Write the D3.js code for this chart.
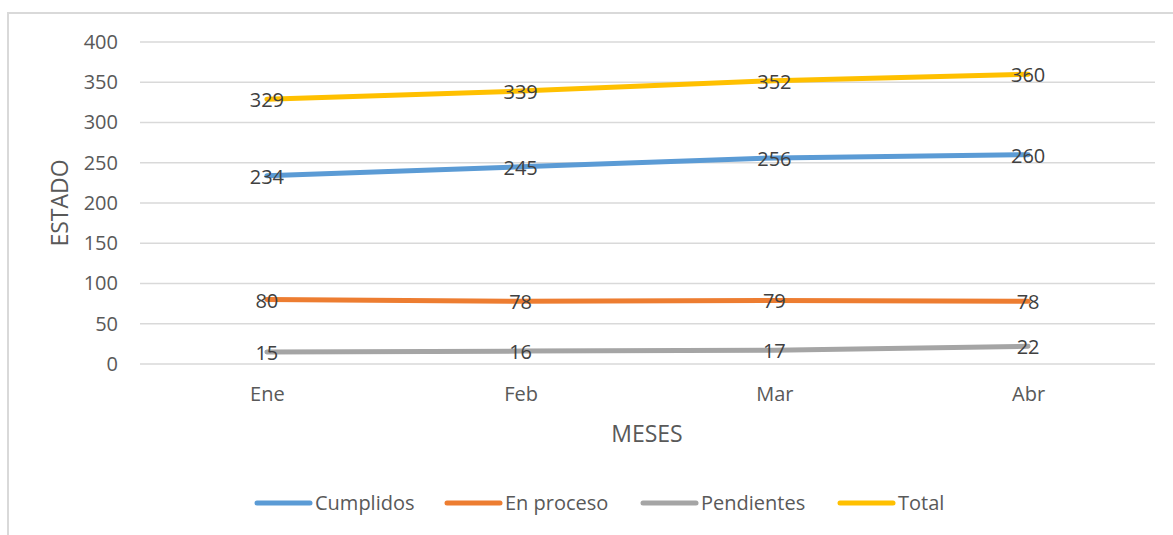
<html>
<script src='https://d3js.org/d3.v7.min.js'></script>
<style>
body {margin: 0; background: #fff;}
text {font-family: 'Open Sans', sans-serif; fill: #595959;}
.grid line {stroke: #d9d9d9; stroke-width: 1.5;}
</style>
<body onload='init()'>
<svg width=1173 height=535></svg>
<script>
var meses = ["Ene", "Feb", "Mar", "Abr"];
var cumplidos = [234, 245, 256, 260];
var enProceso = [80, 78, 79, 78];
var pendientes = [15, 16, 17, 22];
var total = [329, 339, 352, 360];
var yTicks = [0, 50, 100, 150, 200, 250, 300, 350, 400];

function init() {
    var svg = d3.select("svg");
    var left = 140, right = 1155, top = 42, bottom = 364;

    var series = [
        {name: "Cumplidos", values: cumplidos, color: "#5b9bd5"},
        {name: "En proceso", values: enProceso, color: "#ed7d31"},
        {name: "Pendientes", values: pendientes, color: "#a5a5a5"},
        {name: "Total", values: total, color: "#ffc000"}
    ];

    // chart border
    svg.append("rect").attr("x", 8).attr("y", 13).attr("width", 1175).attr("height", 540)
        .attr("fill", "none").attr("stroke", "#d9d9d9").attr("stroke-width", 2);

    var x = d3.scalePoint().domain(meses).range([left, right]).padding(0.5);
    var y = d3.scaleLinear().domain([0, 400]).range([bottom, top]);

    // gridlines
    svg.append("g").attr("class", "grid").selectAll("line").data(yTicks).enter()
        .append("line")
        .attr("x1", left).attr("x2", right)
        .attr("y1", function(d){return y(d)}).attr("y2", function(d){return y(d)});

    // y axis labels
    var yAxis = svg.append("g").attr("transform", "translate(" + left + ",0)")
        .call(d3.axisLeft(y).tickValues(yTicks).tickSize(0).tickPadding(22));
    yAxis.select(".domain").remove();
    yAxis.selectAll("text").style("font-size", "20px").attr("fill", "#595959");

    // x axis labels
    var xAxis = svg.append("g").attr("transform", "translate(0," + bottom + ")")
        .call(d3.axisBottom(x).tickSize(0).tickPadding(23));
    xAxis.select(".domain").remove();
    xAxis.selectAll("text").style("font-size", "20px").attr("fill", "#595959");

    // axis titles
    svg.append("text").attr("x", 647).attr("y", 442).attr("text-anchor", "middle")
        .style("font-size", "23px").text("MESES");
    svg.append("text").attr("transform", "translate(68,203) rotate(-90)").attr("text-anchor", "middle")
        .style("font-size", "23px").text("ESTADO");

    var line = d3.line()
        .x(function(d, i){return x(meses[i])})
        .y(function(d){return y(d)});

    svg.selectAll(".series").data(series).enter()
        .append("path")
        .attr("d", function(s){return line(s.values)})
        .attr("fill", "none")
        .attr("stroke", function(s){return s.color})
        .attr("stroke-width", 5)
        .attr("stroke-linecap", "round");

    // data labels
    series.forEach(function(s) {
        svg.append("g").selectAll("text").data(s.values).enter()
            .append("text")
            .attr("x", function(d, i){return x(meses[i])})
            .attr("y", function(d){return y(d)})
            .attr("dy", "0.4em")
            .attr("text-anchor", "middle")
            .style("font-size", "20px")
            .style("fill", "#404040")
            .text(function(d){return d});
    });

    // legend
    var legendX = [257, 447, 643, 840];
    var legend = svg.append("g").selectAll("g").data(series).enter()
        .append("g").attr("transform", function(s, i){return "translate(" + legendX[i] + ",503)"});
    legend.append("line").attr("x1", 0).attr("x2", 53).attr("y1", 0).attr("y2", 0)
        .attr("stroke", function(s){return s.color}).attr("stroke-width", 5).attr("stroke-linecap", "round");
    legend.append("text").attr("x", 58).attr("dy", "0.35em")
        .style("font-size", "20px").text(function(s){return s.name});
}
</script>
</body>
</html>
